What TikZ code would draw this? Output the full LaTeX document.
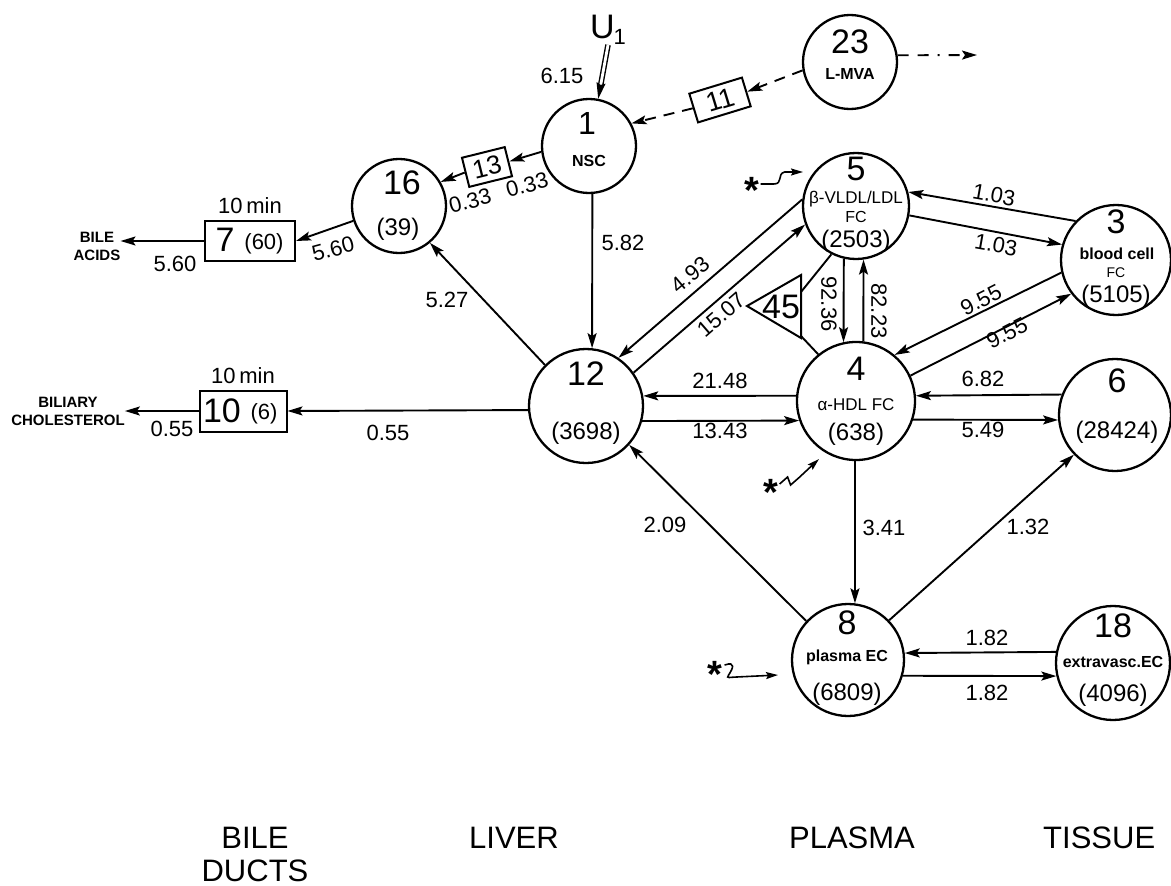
\documentclass[tikz,border=0pt]{standalone}
\usepackage{fontspec}
\setmainfont{Liberation Sans}
\usetikzlibrary{arrows.meta,calc}
\begin{document}
\begin{tikzpicture}[x=1pt,y=-1pt,
  circ/.style={draw, circle, line width=2.3pt, inner sep=0pt},
  bx/.style={draw, rectangle, line width=2pt, inner sep=0pt},
  flow/.style={line width=1.9pt, -{Stealth[length=15pt,width=9pt,inset=3pt]}},
  plainline/.style={line width=1.9pt},
  big/.style={inner sep=0pt, font=\fontsize{34}{34}\selectfont},
  val/.style={inner sep=0pt, font=\fontsize{24}{24}\selectfont},
  lab/.style={inner sep=0pt, font=\fontsize{22}{22}\selectfont},
  sm/.style={inner sep=0pt, font=\bfseries\fontsize{16}{16}\selectfont},
  md/.style={inner sep=0pt, font=\fontsize{17}{17}\selectfont},
  region/.style={inner sep=0pt, font=\fontsize{31}{31}\selectfont},
  star/.style={inner sep=0pt, font=\bfseries\fontsize{38}{38}\selectfont},
  squig/.style={line width=1.6pt, -{Stealth[length=12pt,width=7pt,inset=2pt]}}]
\useasboundingbox (0,0) rectangle (1171,886);

% ---------- circles ----------
\node[circ, minimum size=94pt] (n1) at (589,146) {};
\node[big, font=\fontsize{32}{32}\selectfont] (n1a) at (587,123) {1};
\node[sm] (n1b) at (589,161) {NSC};

\node[circ, minimum size=94pt] (n23) at (850,62) {};
\node[big] (n23a) at (850,42) {23};
\node[sm] (n23b) at (850,74) {L-MVA};

\node[circ, minimum size=94pt] (n16) at (399,206) {};
\node[big] (n16a) at (402,183) {16};
\node[val] (n16b) at (398,229) {(39)};

\node[circ, minimum size=114pt] (n12) at (586,406) {};
\node[big] (n12a) at (586,374) {12};
\node[val] (n12b) at (586,433) {(3698)};

\node[circ, minimum size=106pt] (n5) at (856,206) {};
\node[big] (n5a) at (856,169) {5};
\node[md] (n5b) at (856,199) {β-VLDL/LDL};
\node[md, font=\fontsize{16}{16}\selectfont] (n5c) at (856,217) {FC};
\node[val] (n5d) at (856,241) {(2503)};

\node[circ, minimum size=118pt] (n4) at (856,401) {};
\node[big] (n4a) at (856,369) {4};
\node[md] (n4b) at (856,405) {α-HDL FC};
\node[val] (n4c) at (856,434) {(638)};

\node[circ, minimum size=110pt] (n3) at (1116,260) {};
\node[big] (n3a) at (1116,222) {3};
\node[sm] (n3b) at (1117,254) {blood cell};
\node[md, font=\fontsize{14}{14}\selectfont] (n3c) at (1116,273) {FC};
\node[val] (n3d) at (1116,296) {(5105)};

\node[circ, minimum size=112pt] (n6) at (1115,415) {};
\node[big] (n6a) at (1117,381) {6};
\node[val] (n6b) at (1117,432) {(28424)};

\node[circ, minimum size=112pt] (n8) at (848,660) {};
\node[big] (n8a) at (847,623) {8};
\node[sm] (n8b) at (847,657) {plasma EC};
\node[val] (n8c) at (847,694) {(6809)};

\node[circ, minimum size=114pt] (n18) at (1113,663) {};
\node[big] (n18a) at (1113,626) {18};
\node[sm] (n18b) at (1113,662) {extravasc.EC};
\node[val] (n18c) at (1113,695) {(4096)};

% ---------- boxes ----------
\node[bx, minimum width=90pt, minimum height=40pt] (b7) at (250,241) {};
\node[big] (b7a) at (225,240) {7};
\node[val, font=\fontsize{22}{22}\selectfont] (b7b) at (264,244) {(60)};
\node[lab] (b7t) at (250,206) {10\,min};

\node[bx, minimum width=87pt, minimum height=41pt] (b10) at (243,411) {};
\node[big] (b10a) at (222,411) {10};
\node[val, font=\fontsize{22}{22}\selectfont] (b10b) at (264,414) {(6)};
\node[lab] (b10t) at (243,376) {10\,min};

\node[bx, rotate=14, minimum width=44pt, minimum height=30pt, font=\fontsize{26}{26}\selectfont] (b13) at (487,167) {13};
\node[bx, rotate=17, minimum width=55pt, minimum height=30pt, font=\fontsize{27}{27}\selectfont] (b11) at (720,100) {11};

% ---------- triangle 45 ----------
\coordinate (t1) at (747,306);
\coordinate (t2) at (801,275);
\coordinate (t3) at (801,338);
\coordinate (t2b) at (801,292);
\coordinate (t3b) at (801,336);
\draw[line width=2pt, line join=miter] (t1) -- (t2) -- (t3) -- cycle;
\node[big] (t45) at (781,307) {45};
\draw[plainline] (t2b) -- (n5.243);
\draw[plainline] (t3b) -- (n4.129);

% ---------- outside labels ----------
\node[sm, font=\bfseries\fontsize{15}{15}\selectfont, align=center] (ba) at (97,246) {BILE\\[3pt]ACIDS};
\node[sm, font=\bfseries\fontsize{15}{15}\selectfont, align=center] (bc) at (68,411) {BILIARY\\[3pt]CHOLESTEROL};
\node[inner sep=0pt, font=\fontsize{34}{34}\selectfont] (u1) at (608,30) {U\kern-1pt\raisebox{-6pt}{\fontsize{22}{22}\selectfont 1}};
\coordinate (e23) at (977,55);

% ---------- connectors ----------
\draw[line width=1.4pt, double distance=2.8pt, -{Stealth[length=16pt,width=9pt,inset=2pt]}] (u1.south) -- (n1.79);
\node[lab] (l615) at (562,76) {6.15};

\draw[flow] (n1.187) -- (b13.east);
\draw[flow] (b13.west) -- (n16.30);
\node[lab, rotate=15] (l033a) at (527,185) {0.33};
\node[lab, rotate=15] (l033b) at (470,201) {0.33};

\draw[flow, dash pattern=on 11pt off 8pt] (n23.190) -- (b11.east);
\draw[flow, dash pattern=on 11pt off 8pt] (b11.west) -- (n1.28);
\draw[flow, dash pattern=on 11pt off 9pt on 11pt off 9pt on 2pt off 9pt] (n23.8) -- (e23);

\draw[flow] (n1.-86) -- (n12.84);
\node[lab] (l582) at (623,243) {5.82};

\draw[flow] (n12.135) -- (n16.-50);
\node[lab] (l527) at (447,300) {5.27};

\draw[flow] (n16.198) -- (b7.east);
\node[lab, rotate=15] (l560a) at (333,249) {5.60};
\draw[flow] (b7.west) -- (ba.east |- b7.west);
\node[lab] (l560b) at (175,264) {5.60};

\draw[flow] (n12.184) -- (b10.east);
\node[lab] (l055a) at (388,433) {0.55};
\draw[flow] (b10.west) -- (bc.east |- b10.west);
\node[lab] (l055b) at (172,429) {0.55};

\draw[flow] (n5.173.5) -- (n12.56);
\node[lab, rotate=40] (l493) at (690,275) {4.93};
\draw[flow] (n12.35) -- (n5.200);
\node[lab, rotate=41] (l1507) at (721,315) {15.07};

\draw[flow] (n5.-103) -- (n4.102);
\node[lab, rotate=-90] (l9236) at (829,304) {92.36};
\draw[flow] (n4.83) -- (n5.-82);
\node[lab, rotate=-90] (l8223) at (879,311) {82.23};

\draw[flow] (n3.136.5) -- (n5.15);
\node[lab, rotate=-10] (l103a) at (994,195) {1.03};
\draw[flow] (n5.350) -- (n3.164);
\node[lab, rotate=-10] (l103b) at (996,245) {1.03};

\draw[flow] (n3.193) -- (n4.50);
\node[lab, rotate=27] (l955a) at (981,300) {9.55};
\draw[flow] (n4.25) -- (n3.217);
\node[lab, rotate=27] (l955b) at (1007,333) {9.55};

\draw[flow] (n6.159.1) -- (n4.5.8);
\node[lab] (l682) at (983,379) {6.82};
\draw[flow] (n4.-18.8) -- (n6.185.1);
\node[lab] (l549) at (983,430) {5.49};

\draw[flow] (n4.175.1) -- (n12.10.1);
\node[lab] (l2148) at (720,381) {21.48};
\draw[flow] (n12.-15.3) -- (n4.199.8);
\node[lab] (l1343) at (720,431) {13.43};

\draw[flow] (n4.-91) -- (n8.83);
\node[lab] (l341) at (884,528) {3.41};
\draw[flow] (n8.44) -- (n6.224);
\node[lab] (l132) at (1028,527) {1.32};
\draw[flow] (n8.137) -- (n12.-42);
\node[lab] (l209) at (665,525) {2.09};

\draw[flow] (n18.169.9) -- (n8.7.2);
\node[lab] (l182a) at (987,638) {1.82};
\draw[flow] (n8.-16.6) -- (n18.193.2);
\node[lab] (l182b) at (987,693) {1.82};

% ---------- asterisks ----------
\node[star] (s5) at (752,190) {*};
\coordinate (s5e) at (803,172);
\draw[squig] (s5.east) ++(1,-6) -- ++(13,0) .. controls +(10,0) and +(-8,2) .. ++(11,-12) -- (s5e);
\node[star] (s4) at (771,492) {*};
\coordinate (s4e) at (819,459);
\draw[squig] (s4.east) ++(1,-8) -- ++(8,-7) -- ++(3,8) -- ++(8,-7) -- (s4e);
\node[star] (s8) at (715,674) {*};
\coordinate (s8e) at (778,675);
\draw[squig] (s8.east) ++(2,-9) .. controls +(12,-4) and +(4,-6) .. ++(4,10) .. controls +(-3,4) and +(-6,0) .. ++(8,2) -- (s8e);

% ---------- region labels ----------
\node[region, align=center] (rb) at (255,854) {BILE\\[2pt]DUCTS};
\node[region] (rl) at (514,838) {LIVER};
\node[region] (rp) at (852,838) {PLASMA};
\node[region, anchor=west] (rt) at (1043,838) {TISSUE};
\end{tikzpicture}
\end{document}
